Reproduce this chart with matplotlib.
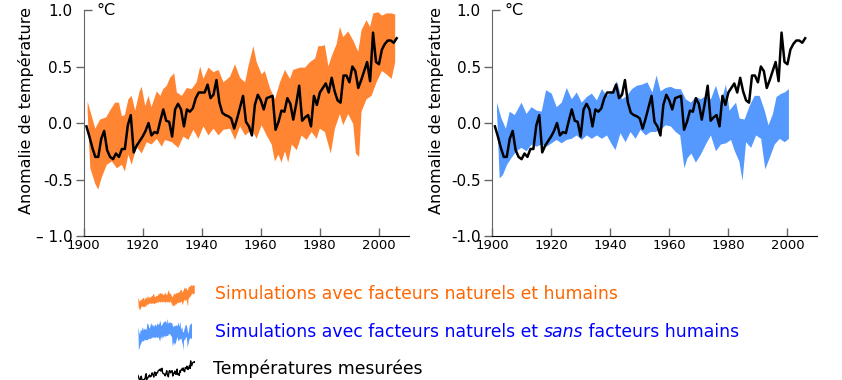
import numpy as np
import matplotlib
matplotlib.use("Agg")
import matplotlib.pyplot as plt
import matplotlib.lines as mlines

obs_years = np.arange(1901, 2007)
obs_temp = [-0.03, -0.12, -0.22, -0.30, -0.30, -0.14, -0.07, -0.24, -0.30, -0.32,
            -0.27, -0.30, -0.23, -0.23, -0.02, 0.07, -0.26, -0.20, -0.16, -0.12,
            -0.07, 0.00, -0.11, -0.08, -0.09, 0.02, 0.12, 0.02, 0.01, -0.12,
            0.12, 0.17, 0.12, -0.03, 0.12, 0.10, 0.13, 0.22, 0.27, 0.27,
            0.27, 0.34, 0.22, 0.25, 0.38, 0.18, 0.09, 0.07, 0.06, 0.04,
            -0.05, 0.04, 0.14, 0.24, 0.01, -0.03, -0.11, 0.16, 0.25, 0.20,
            0.12, 0.22, 0.23, 0.24, -0.06, 0.01, 0.11, 0.10, 0.22, 0.17,
            0.03, 0.17, 0.33, 0.02, 0.05, 0.07, -0.03, 0.24, 0.16, 0.27,
            0.31, 0.35, 0.27, 0.40, 0.28, 0.20, 0.18, 0.42, 0.42, 0.36,
            0.50, 0.46, 0.31, 0.38, 0.46, 0.54, 0.37, 0.80, 0.54, 0.52,
            0.65, 0.70, 0.73, 0.73, 0.71, 0.75]

# natural + human forcing simulations: upper / lower edge of the range
nh_up_years = [1901.4, 1904, 1905.6, 1907.7, 1909, 1910.7, 1912, 1913, 1914, 1915.2,
               1916.3, 1917.5, 1919, 1919.7, 1920.9, 1922, 1923, 1924.8, 1926, 1927,
               1928.2, 1929.3, 1930.7, 1931.6, 1933.3, 1935, 1936.6, 1938.3, 1939.5, 1940.6,
               1942.3, 1944, 1945.7, 1947.4, 1949.6, 1951.3, 1953, 1954.7, 1955.8, 1957.5,
               1958.6, 1960.3, 1961.4, 1963.1, 1964.8, 1966.5, 1968.2, 1969.9, 1971, 1973.3,
               1975, 1976.7, 1978.4, 1979.5, 1980.6, 1981.7, 1982.9, 1984, 1985.7, 1986.8,
               1987.9, 1989.6, 1991.3, 1993, 1994.1, 1995.8, 1997, 1998.1, 1999.8, 2001,
               2002.6, 2004.3, 2005.5]
nh_up = [0.19, -0.05, 0.03, 0.05, 0.11, 0.18, 0.18, 0.06, 0.07, 0.21,
         0.24, 0.11, 0.28, 0.32, 0.15, 0.24, 0.14, 0.28, 0.24, 0.30,
         0.33, 0.40, 0.44, 0.27, 0.24, 0.31, 0.30, 0.36, 0.50, 0.39,
         0.49, 0.45, 0.47, 0.36, 0.41, 0.52, 0.40, 0.36, 0.50, 0.68,
         0.54, 0.43, 0.46, 0.31, 0.21, 0.36, 0.47, 0.39, 0.47, 0.49,
         0.49, 0.54, 0.57, 0.68, 0.68, 0.69, 0.50, 0.59, 0.70, 0.85,
         0.76, 0.81, 0.73, 0.63, 0.82, 0.91, 0.85, 0.97, 0.98, 0.95,
         0.97, 0.97, 0.96]
nh_lo_years = [1901.4, 1902.3, 1904, 1905, 1906.2, 1907.9, 1909.6, 1911.3, 1913, 1914,
               1915.2, 1916.3, 1918, 1919.7, 1921.4, 1923.1, 1924.8, 1926.5, 1927.6, 1929.9,
               1932.1, 1933.8, 1935.5, 1937.2, 1938.9, 1940.6, 1942.3, 1944, 1945.7, 1947.4,
               1949.6, 1951.3, 1953, 1954.7, 1957, 1958.6, 1960.3, 1962, 1963.7, 1964.8,
               1966, 1967, 1968.2, 1969.3, 1970.5, 1972.2, 1973.8, 1975.5, 1977.2, 1978.9,
               1980, 1981.7, 1983.7, 1985.1, 1986.8, 1987.9, 1989.6, 1991.3, 1992.2, 1993.3,
               1994.1, 1995.8, 1997.5, 1999.2, 2001, 2002.6, 2004.3, 2005.5]
nh_lo = [0.10, -0.40, -0.54, -0.59, -0.48, -0.37, -0.34, -0.40, -0.37, -0.43,
         -0.28, -0.37, -0.21, -0.27, -0.17, -0.19, -0.14, -0.21, -0.15, -0.17,
         -0.22, -0.12, -0.15, -0.06, -0.14, -0.03, -0.11, -0.05, -0.11, -0.06,
         -0.05, -0.15, -0.03, -0.11, -0.06, -0.14, -0.02, -0.11, -0.19, -0.34,
         -0.28, -0.35, -0.25, -0.35, -0.19, -0.24, -0.11, -0.15, -0.08, -0.14,
         -0.05, -0.08, -0.27, -0.05, 0.08, -0.02, 0.08, -0.01, -0.27, -0.30,
         0.10, 0.21, 0.24, 0.36, 0.46, 0.43, 0.39, 0.54]

# natural forcing only simulations
n_up_years = [1901.7, 1903.2, 1904.7, 1906, 1907.7, 1910, 1911.7, 1913.4, 1915.1, 1916.8,
              1918.3, 1920.2, 1921.9, 1923.6, 1925.3, 1927, 1928.7, 1930.4, 1932.1, 1933.8,
              1935.5, 1937.2, 1938.9, 1940.6, 1942.3, 1944, 1945.7, 1947.4, 1949.1, 1950.9,
              1952.6, 1954.3, 1955.7, 1957.1, 1958.8, 1960.5, 1962.2, 1963.9, 1965.6, 1967.3,
              1969, 1970.7, 1972.4, 1974.1, 1975.8, 1977.5, 1979.2, 1980.4, 1982.6, 1983.8,
              1985.5, 1987.2, 1988.9, 1990.6, 1992.3, 1993.6, 1995.1, 1996.3, 1998, 1999.1,
              2000.5]
n_up = [0.18, 0.04, -0.05, 0.10, 0.07, 0.18, 0.08, 0.14, 0.11, 0.10,
        0.29, 0.26, 0.14, 0.18, 0.31, 0.21, 0.27, 0.18, 0.23, 0.26,
        0.20, 0.30, 0.24, 0.28, 0.37, 0.21, 0.24, 0.30, 0.33, 0.34,
        0.36, 0.27, 0.42, 0.28, 0.31, 0.32, 0.30, 0.30, 0.21, 0.18,
        0.23, 0.21, 0.24, 0.21, 0.33, 0.18, 0.34, 0.11, 0.18, 0.04,
        0.03, 0.15, 0.24, 0.24, 0.11, -0.02, 0.08, 0.23, 0.26, 0.27,
        0.30]
n_lo_years = [1901.7, 1902.6, 1903.7, 1905.1, 1906.6, 1908.3, 1910, 1911.7, 1913.4, 1915.1,
              1916.8, 1918.5, 1920.2, 1921.9, 1923.6, 1925.3, 1927, 1928.7, 1930.4, 1932.1,
              1933.8, 1935.5, 1937.2, 1938.9, 1940.6, 1941.8, 1943.5, 1945.2, 1946.9, 1948.6,
              1950.3, 1952, 1953.7, 1955.4, 1957.1, 1958.8, 1960.5, 1962.2, 1963.7, 1965.1,
              1966.2, 1967.5, 1969, 1970.7, 1972.4, 1974.1, 1975.8, 1977.5, 1979.2, 1980.9,
              1982.2, 1983.7, 1984.8, 1986, 1987.7, 1989.4, 1991.1, 1992.5, 1994, 1995.7,
              1997.4, 1999.1, 2000.5]
n_lo = [0.10, -0.49, -0.46, -0.37, -0.31, -0.25, -0.22, -0.25, -0.19, -0.21,
        -0.19, -0.21, -0.18, -0.15, -0.18, -0.15, -0.14, -0.11, -0.15, -0.11,
        -0.14, -0.11, -0.14, -0.11, -0.19, -0.24, -0.09, -0.17, -0.08, -0.14,
        -0.06, -0.11, -0.08, -0.08, -0.06, -0.02, -0.03, -0.08, -0.11, -0.40,
        -0.31, -0.27, -0.35, -0.28, -0.19, -0.11, -0.25, -0.19, -0.18, -0.15,
        -0.25, -0.34, -0.51, -0.17, -0.22, -0.11, -0.14, -0.41, -0.31, -0.19,
        -0.14, -0.17, -0.14]

yticks = [1.0, 0.5, 0.0, -0.5, -1.0]
left_ytick_labels = ["1.0", "0.5", "0.0", "-0.5", "\u2013 1.0"]
right_ytick_labels = ["1.0", "0.5", "0.0", "-0.5", "-1.0"]
xticks = [1900, 1920, 1940, 1960, 1980, 2000]

orange_fill = "#ff8533"
blue_fill = "#5599ff"
orange_text = "#ff6600"
blue_text = "#0000ff"

W, H = 842, 380
fig = plt.figure(figsize=(W / 100, H / 100), dpi=100)


def band(ax, up_x, up_y, lo_x, lo_y, color):
    xs = np.concatenate([up_x, lo_x[::-1]])
    ys = np.concatenate([up_y, lo_y[::-1]])
    ax.fill(xs, ys, color=color, lw=0)


def setup(ax, labels, label_x):
    ax.set_xlim(1900, 2010)
    ax.set_ylim(-1.0, 1.0)
    for s in ["top", "right"]:
        ax.spines[s].set_visible(False)
    ax.spines["left"].set_color("#666666")
    ax.spines["bottom"].set_color("black")
    ax.set_xticks(xticks)
    ax.set_yticks(yticks)
    ax.set_yticklabels(labels)
    ax.tick_params(axis="x", direction="in", length=6, width=1, color="#666666",
                   labelsize=9.5, pad=2)
    ax.tick_params(axis="y", direction="out", length=6, width=1, color="#666666",
                   labelsize=11, pad=2)
    ax.set_ylabel("Anomalie de température", fontsize=11.5)
    ax.yaxis.set_label_coords(label_x, 0.555)
    ax.text(0.04, 1.0, "°C", transform=ax.transAxes, fontsize=11.5,
            va="center", ha="left")
    # the 1.0 tick points inwards
    for t in ax.yaxis.get_major_ticks():
        if t.get_loc() == 1.0:
            t.tick1line.set_marker(mlines.TICKRIGHT)


ax1 = fig.add_axes([83.5 / W, 1 - 236 / H, 325 / W, 226 / H])
band(ax1, nh_up_years, nh_up, nh_lo_years, nh_lo, orange_fill)
ax1.plot(obs_years, obs_temp, color="black", lw=1.8)
setup(ax1, left_ytick_labels, -0.152)

ax2 = fig.add_axes([492 / W, 1 - 236 / H, 325 / W, 226 / H])
band(ax2, n_up_years, n_up, n_lo_years, n_lo, blue_fill)
ax2.plot(obs_years, obs_temp, color="black", lw=1.8)
setup(ax2, right_ytick_labels, -0.148)

# legend icons: tiny versions of the series
ic1 = fig.add_axes([138 / W, 1 - 312 / H, 57 / W, 27 / H])
band(ic1, nh_up_years, nh_up, nh_lo_years, nh_lo, orange_fill)
ic1.set_ylim(-0.7, 1.0)
ic2 = fig.add_axes([138 / W, 1 - 352 / H, 57 / W, 34 / H])
band(ic2, n_up_years, n_up, n_lo_years, n_lo, blue_fill)
ic2.set_ylim(-0.55, 0.45)
ic3 = fig.add_axes([138 / W, 1 - 382 / H, 57 / W, 22 / H])
ic3.plot(obs_years, obs_temp, color="black", lw=1)
ic3.set_ylim(-0.4, 0.85)
for ic in (ic1, ic2, ic3):
    ic.set_xlim(1901, 2006)
    ic.axis("off")

fs = 12.4
fig.text(215 / W, 1 - 294 / H, "Simulations avec facteurs naturels et humains",
         color=orange_text, fontsize=fs, va="center", ha="left")
t = fig.text(215 / W, 1 - 332 / H, "Simulations avec facteurs naturels et ",
             color=blue_text, fontsize=fs, va="center", ha="left")
fig.canvas.draw()
bb = t.get_window_extent()
t2 = fig.text(bb.x1 / W, 1 - 332 / H, "sans", color=blue_text, fontsize=fs,
              style="italic", va="center", ha="left")
bb2 = t2.get_window_extent()
fig.text(bb2.x1 / W, 1 - 332 / H, " facteurs humains", color=blue_text,
         fontsize=fs, va="center", ha="left")
fig.text(213 / W, 1 - 369 / H, "Températures mesurées", color="black",
         fontsize=fs, va="center", ha="left")

fig.savefig("out.png", dpi=100)
